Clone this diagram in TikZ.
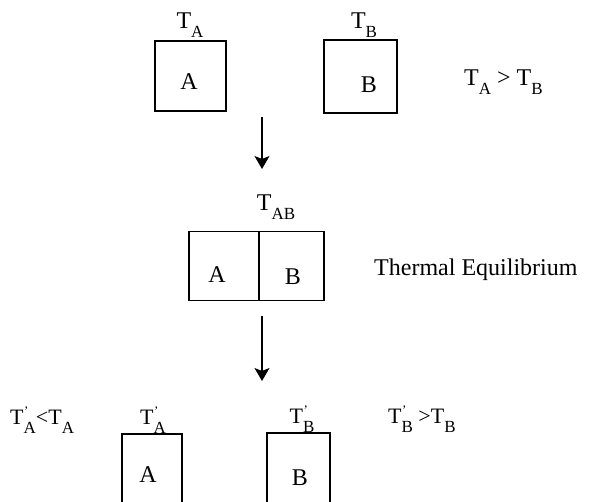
\documentclass[tikz,border=0pt]{standalone}
\usepackage{fontspec}
\setmainfont{Liberation Serif}
\usetikzlibrary{arrows.meta}
\newcommand{\lsub}[1]{\raisebox{-9pt}{\fontsize{17}{17}\selectfont #1}}
\newcommand{\Tsub}[1]{T\lsub{#1}}
\newcommand{\Tpr}[1]{T\rlap{\raisebox{9pt}{\fontsize{13}{13}\selectfont\kern0.5pt\char"2019}}\lsub{#1}}
\begin{document}
\begin{tikzpicture}[x=1pt,y=-1pt,
  lbl/.style={inner sep=0pt,font=\fontsize{24}{26}\selectfont},
  slbl/.style={inner sep=0pt,font=\fontsize{22}{24}\selectfont},
  box/.style={draw,line width=1.2pt,inner sep=0pt},
  arr/.style={line width=1.1pt,-{Stealth[length=13pt,width=15pt,inset=3pt]}}]
\useasboundingbox (0,0) rectangle (608,502);
% top row
\node[box,minimum width=71pt,minimum height=70pt] (boxA) at (190.5,76) {};
\node[box,minimum width=73pt,minimum height=73pt] (boxB) at (360.5,76.5) {};
\node[lbl] (a1) at (189,82) {A};
\node[lbl] (b1) at (369,85) {B};
\node[lbl] (ta) at (190,25) {\Tsub{A}};
\node[lbl] (tb) at (364,25) {\Tsub{B}};
\node[lbl,anchor=west] (rel1) at (464,82) {\Tsub{A} > \Tsub{B}};
% arrow 1
\coordinate (s1) at (262,117);
\coordinate (e1) at (262,169);
\draw[arr] (s1) -- (e1);
% middle row
\node[box,minimum width=70pt,minimum height=69pt] (mA) at (224,266) {};
\node[box,minimum width=65pt,minimum height=69pt] (mB) at (291.5,266) {};
\node[lbl] (a2) at (217,275) {A};
\node[lbl] (b2) at (293,277) {B};
\node[lbl] (tab) at (276,207) {\Tsub{AB}};
\node[lbl,anchor=west] (eq) at (374,270) {Thermal Equilibrium};
% arrow 2
\coordinate (s2) at (262,316);
\coordinate (e2) at (262,381);
\draw[arr] (s2) -- (e2);
% bottom row
\draw[line width=1.2pt] (122,505) -- (122,434) -- (182,434) -- (182,505);
\draw[line width=1.2pt] (267,505) -- (267,433) -- (330,433) -- (330,505);
\node[lbl] (a3) at (148,475) {A};
\node[lbl] (b3) at (300,478) {B};
\node[slbl] (tpa) at (153,420) {\Tpr{A}};
\node[slbl] (tpb) at (302,419) {\Tpr{B}};
\node[slbl,anchor=west] (rel2) at (10,420) {\Tpr{A}<\Tsub{A}};
\node[slbl,anchor=west] (rel3) at (388,419) {\Tpr{B} >\Tsub{B}};
\end{tikzpicture}
\end{document}
